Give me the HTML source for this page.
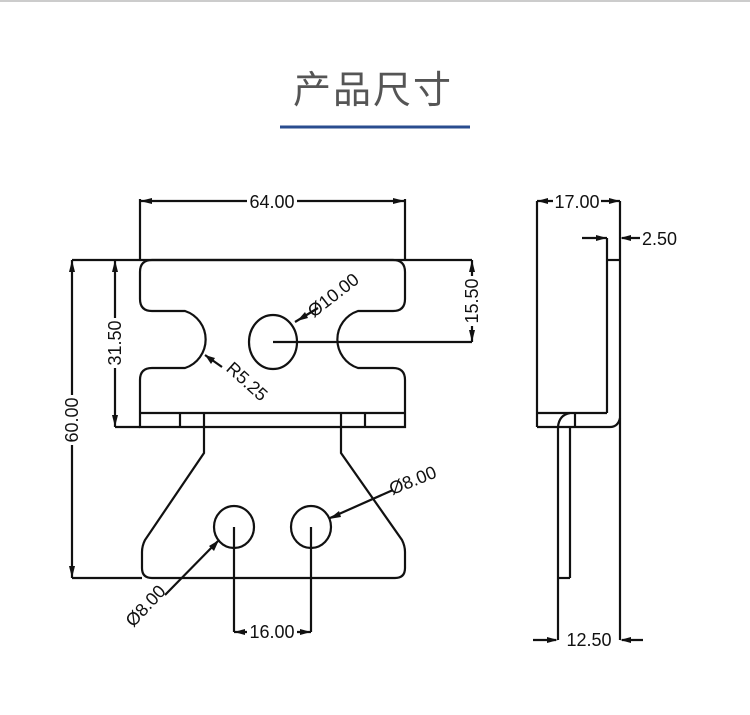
<!DOCTYPE html>
<html><head><meta charset="utf-8"><style>
html,body{margin:0;padding:0;background:#fff;width:750px;height:715px;overflow:hidden}
</style></head><body>
<svg width="750" height="715" viewBox="0 0 750 715" xmlns="http://www.w3.org/2000/svg">
<line x1="0" y1="1" x2="750" y2="1" stroke="#ccc" stroke-width="2"/>
<text x="373" y="103" text-anchor="middle" font-family="Liberation Sans, Noto Sans CJK SC, sans-serif" font-size="38" fill="#555" letter-spacing="2">产品尺寸</text>
<line x1="280" y1="127" x2="470" y2="127" stroke="#2a4d8f" stroke-width="3"/>
<g fill="none" stroke="#111" stroke-width="2.2">
<path d="M140 272 Q140 260 152 260 L393 260 Q405 260 405 272 L405 299 Q405 311 393 311 L358 311 A30 30 0 0 0 358 368 L393 368 Q405 368 405 380 L405 427 L140 427 L140 380 Q140 368 152 368 L185 368 A30 30 0 0 0 185 311 L152 311 Q140 311 140 299 Z"/>
<line x1="140" y1="413" x2="405" y2="413"/>
<line x1="180" y1="413" x2="180" y2="427"/><line x1="204" y1="413" x2="204" y2="427"/>
<line x1="341" y1="413" x2="341" y2="427"/><line x1="365" y1="413" x2="365" y2="427"/>
<ellipse cx="273" cy="342" rx="24" ry="27"/>
<path d="M204 427 L204 453 L145 540 Q142 546 142 552 L142 568 Q142 578 152 578 L395 578 Q405 578 405 568 L405 552 Q405 546 402 540 L341 453 L341 427"/>
<ellipse cx="234" cy="527" rx="20" ry="21"/>
<ellipse cx="311" cy="527" rx="20" ry="21"/>
<line x1="140" y1="260" x2="140" y2="199"/><line x1="405" y1="260" x2="405" y2="199"/>
<line x1="140" y1="201" x2="405" y2="201"/>
<line x1="72" y1="260" x2="472" y2="260"/>
<line x1="72" y1="260" x2="72" y2="578"/><line x1="72" y1="578" x2="142" y2="578"/>
<line x1="115" y1="260" x2="115" y2="427"/><line x1="115" y1="427" x2="140" y2="427"/>
<line x1="472" y1="260" x2="472" y2="342"/><line x1="273" y1="342" x2="472" y2="342"/>
<line x1="295" y1="322" x2="318" y2="308"/>
<line x1="205" y1="355" x2="222" y2="367"/>
<line x1="234" y1="527" x2="234" y2="632"/><line x1="311" y1="527" x2="311" y2="632"/>
<line x1="234" y1="632" x2="311" y2="632"/>
<line x1="218" y1="541" x2="165" y2="595"/>
<line x1="330" y1="518" x2="393" y2="490"/>
<line x1="537" y1="201" x2="537" y2="427"/>
<line x1="620" y1="201" x2="620" y2="640"/>
<line x1="537" y1="201" x2="620" y2="201"/>
<line x1="607" y1="238" x2="607" y2="413"/>
<line x1="582" y1="238" x2="607" y2="238"/>
<line x1="607" y1="260" x2="620" y2="260"/>
<line x1="622" y1="238" x2="640" y2="238"/>
<line x1="537" y1="413" x2="607" y2="413"/>
<path d="M537 427 L610 427 Q618 427 620 418"/>
<path d="M558 640 L558 427 Q559 415 570 413"/>
<line x1="575" y1="413" x2="575" y2="427"/>
<line x1="570" y1="427" x2="570" y2="578"/><line x1="558" y1="578" x2="570" y2="578"/>
<line x1="533" y1="640" x2="556" y2="640"/><line x1="622" y1="640" x2="643" y2="640"/>
</g>
<g fill="#111">
<polygon points="140,201 152,198 152,204"/><polygon points="405,201 393,198 393,204"/>
<polygon points="72,260 69,272 75,272"/><polygon points="72,578 69,566 75,566"/>
<polygon points="115,260 112,272 118,272"/><polygon points="115,427 112,415 118,415"/>
<polygon points="472,260 469,272 475,272"/><polygon points="472,342 469,330 475,330"/>
<polygon points="234,632 245,629 245,635"/><polygon points="311,632 300,629 300,635"/>
<polygon points="297,321 305,312 308,318"/>
<polygon points="205,355 211,364 215,358"/>
<polygon points="219,540 209,546 214,551"/>
<polygon points="329,519 339,511 341,517"/>
<polygon points="537,201 548,198 548,204"/><polygon points="620,201 609,198 609,204"/>
<polygon points="607,238 596,235 596,241"/><polygon points="620,238 631,235 631,241"/>
<polygon points="558,640 547,637 547,643"/><polygon points="620,640 631,637 631,643"/>
</g>
<g fill="#fff">
<rect x="247" y="192" width="50" height="18"/>
<rect x="247" y="623" width="50" height="18"/>
<rect x="553" y="192" width="48" height="18"/>
<rect x="63" y="395" width="18" height="50"/>
<rect x="106" y="318" width="18" height="50"/>
<rect x="463" y="276" width="18" height="50"/>
</g>
<g font-family="Liberation Sans, sans-serif" font-size="18" fill="#111">
<text x="272" y="208" text-anchor="middle">64.00</text>
<text transform="translate(78,420) rotate(-90)" text-anchor="middle">60.00</text>
<text transform="translate(121,343) rotate(-90)" text-anchor="middle">31.50</text>
<text transform="translate(478,301) rotate(-90)" text-anchor="middle">15.50</text>
<text transform="translate(337,300) rotate(-38)" text-anchor="middle">Ø10.00</text>
<text transform="translate(243,386) rotate(42)" text-anchor="middle">R5.25</text>
<text transform="translate(415,486) rotate(-22)" text-anchor="middle">Ø8.00</text>
<text transform="translate(150,610) rotate(-47)" text-anchor="middle">Ø8.00</text>
<text x="272" y="638" text-anchor="middle">16.00</text>
<text x="577" y="208" text-anchor="middle">17.00</text>
<text x="642" y="245">2.50</text>
<text x="589" y="646" text-anchor="middle">12.50</text>
</g>
</svg>
</body></html>
